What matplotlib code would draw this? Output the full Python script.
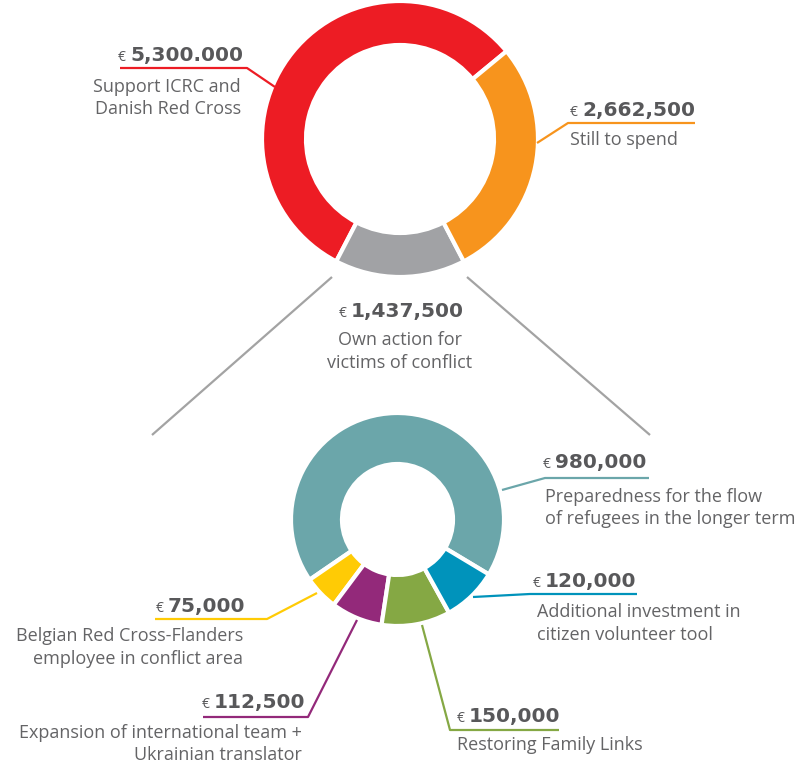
import matplotlib.pyplot as plt

W, H = 798, 764
plt.rcParams['font.family'] = ['Open Sans', 'DejaVu Sans']

# top ring: total budget
top_values = [5300000, 1437500, 2662500]
top_amounts = ['5,300.000', '1,437,500', '2,662,500']
top_labels = ['Support ICRC and\nDanish Red Cross', 'Own action for\nvictims of conflict', 'Still to spend']
top_colors = ['#ED1C24', '#A1A2A5', '#F7941D']

# bottom ring: split of own action
bottom_values = [980000, 75000, 112500, 150000, 120000]
bottom_amounts = ['980,000', '75,000', '112,500', '150,000', '120,000']
bottom_labels = ['Preparedness for the flow\nof refugees in the longer term',
                 'Belgian Red Cross-Flanders\nemployee in conflict area',
                 'Expansion of international team +\nUkrainian translator',
                 'Restoring Family Links',
                 'Additional investment in\ncitizen volunteer tool']
bottom_colors = ['#6BA6AA', '#FFCB05', '#93297A', '#85A844', '#0093BB']

amount_color = '#58585A'
text_color = '#646466'

fig = plt.figure(figsize=(W / 100, H / 100), dpi=100)
ax = fig.add_axes([0, 0, 1, 1])

def Y(y):
    # image coords (y down) -> axes coords (y up)
    return H - y

ax.pie(top_values, colors=top_colors, center=(400, Y(139)), radius=138,
       startangle=39.5, counterclock=True, frame=True,
       wedgeprops=dict(width=44, edgecolor='white', linewidth=3))
ax.pie(bottom_values, colors=bottom_colors, center=(397.5, Y(519.5)), radius=106.5,
       startangle=329, counterclock=True, frame=True,
       wedgeprops=dict(width=51, edgecolor='white', linewidth=3))

ax.set_xlim(0, W)
ax.set_ylim(0, H)
ax.set_aspect('equal')
ax.axis('off')

# leader lines (image coords)
leaders = [
    ([(120, 68), (247, 68), (275, 87)], top_colors[0]),
    ([(537, 143), (568, 123), (695, 123)], top_colors[2]),
    ([(332, 277), (152, 435)], '#A3A3A3'),
    ([(467, 277), (650, 435)], '#A3A3A3'),
    ([(502, 490), (545, 478), (649, 478)], bottom_colors[0]),
    ([(473, 597), (530, 594), (637, 594)], bottom_colors[4]),
    ([(422, 625), (450, 730), (559, 730)], bottom_colors[3]),
    ([(357, 620), (308, 717), (203, 717)], bottom_colors[2]),
    ([(317, 593), (267, 619), (155, 619)], bottom_colors[1]),
]
for pts, c in leaders:
    ax.plot([p[0] for p in pts], [Y(p[1]) for p in pts], color=c, lw=1.6,
            solid_capstyle='butt')

renderer = fig.canvas.get_renderer()

def money(x, y, amount, ha):
    e = ax.text(0, Y(y), '€', fontsize=10, color=amount_color, va='baseline', ha='left')
    a = ax.text(0, Y(y), amount, fontsize=14.5, fontweight='bold', family='DejaVu Sans',
                color=amount_color, va='baseline', ha='left')
    we = e.get_window_extent(renderer).width
    wa = a.get_window_extent(renderer).width
    gap = 4
    total = we + gap + wa
    if ha == 'left':
        x0 = x
    elif ha == 'right':
        x0 = x - total
    else:
        x0 = x - total / 2
    e.set_x(x0)
    a.set_x(x0 + we + gap)

def describe(x, y, label, ha, step=22.5):
    for i, line in enumerate(label.split('\n')):
        ax.text(x, Y(y + i * step), line, fontsize=13, color=text_color,
                va='baseline', ha=ha)

# label layout: (amount x, amount baseline, text x, text baseline, align)
top_layout = [(243, 61, 241, 92, 'right'),
              (401, 317, 400, 345, 'center'),
              (570, 116, 570, 145, 'left')]
bottom_layout = [(543, 468, 545, 502, 'left'),
                 (245, 612, 243, 641, 'right'),
                 (305, 708, 302, 738, 'right'),
                 (457, 722, 457, 750, 'left'),
                 (533, 587, 537, 617, 'left')]

for amt, lab, (ax_, ay, tx, ty, ha) in zip(top_amounts, top_labels, top_layout):
    money(ax_, ay, amt, ha)
    describe(tx, ty, lab, ha)
for amt, lab, (ax_, ay, tx, ty, ha) in zip(bottom_amounts, bottom_labels, bottom_layout):
    money(ax_, ay, amt, ha)
    describe(tx, ty, lab, ha)

fig.savefig('out.png', dpi=100, facecolor='white')
